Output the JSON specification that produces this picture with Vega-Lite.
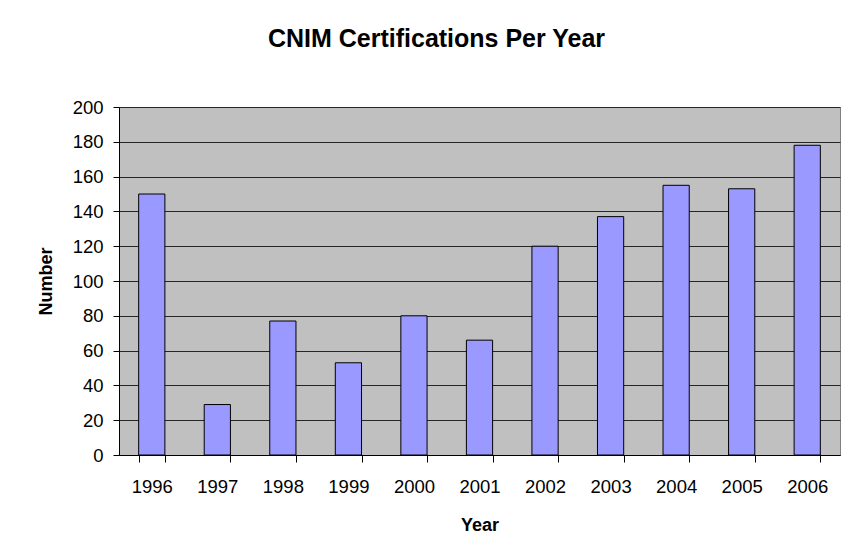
{
  "$schema": "https://vega.github.io/schema/vega-lite/v6.json",
  "width": 721,
  "height": 348,
  "autosize": "none",
  "padding": {"left": 119, "top": 107, "right": 4, "bottom": 101},
  "background": "white",
  "title": {
    "text": "CNIM Certifications Per Year",
    "font": "Liberation Sans",
    "fontSize": 25,
    "fontWeight": "bold",
    "color": "black",
    "anchor": "middle",
    "frame": "group",
    "dx": -43,
    "offset": 46
  },
  "data": {
    "values": [
      {"Year": "1996", "Number": 150},
      {"Year": "1997", "Number": 29},
      {"Year": "1998", "Number": 77},
      {"Year": "1999", "Number": 53},
      {"Year": "2000", "Number": 80},
      {"Year": "2001", "Number": 66},
      {"Year": "2002", "Number": 120},
      {"Year": "2003", "Number": 137},
      {"Year": "2004", "Number": 155},
      {"Year": "2005", "Number": 153},
      {"Year": "2006", "Number": 178}
    ]
  },
  "mark": {"type": "bar", "fill": "#9999FF", "stroke": "black", "strokeWidth": 1},
  "encoding": {
    "x": {
      "field": "Year",
      "type": "ordinal",
      "scale": {"paddingInner": 0.6, "paddingOuter": 0.3},
      "axis": {
        "title": "Year",
        "labelAngle": 0,
        "tickBand": "extent",
        "tickSize": 7,
        "labelPadding": 15,
        "titlePadding": 21,
        "grid": false
      }
    },
    "y": {
      "field": "Number",
      "type": "quantitative",
      "scale": {"domain": [0, 200], "nice": false},
      "axis": {
        "title": "Number",
        "values": [0, 20, 40, 60, 80, 100, 120, 140, 160, 180, 200],
        "tickSize": 6,
        "labelPadding": 10,
        "titlePadding": 17,
        "grid": true
      }
    }
  },
  "config": {
    "view": {"fill": "#C0C0C0", "stroke": "#808080", "strokeWidth": 1},
    "axis": {
      "labelFont": "Liberation Sans",
      "labelFontSize": 18.5,
      "labelColor": "black",
      "titleFont": "Liberation Sans",
      "titleFontSize": 18,
      "titleFontWeight": "bold",
      "titleColor": "black",
      "domainColor": "black",
      "domainWidth": 1,
      "tickColor": "black",
      "tickWidth": 1,
      "gridColor": "#262626",
      "gridWidth": 1,
      "gridOpacity": 1
    }
  }
}
